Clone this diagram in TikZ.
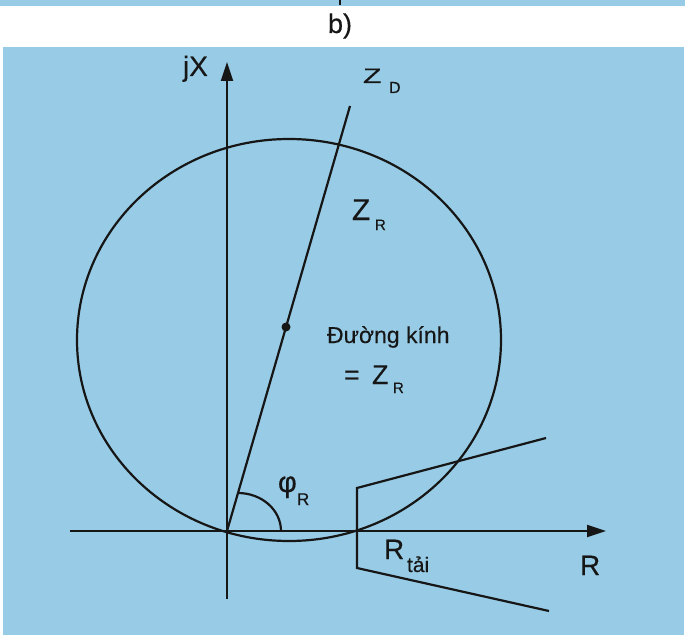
\documentclass[tikz,border=0pt]{standalone}
\usepackage{fontspec}
\setmainfont{Liberation Sans}[FakeBold=0.3]
\newfontfamily\widefont{Liberation Sans}[FakeStretch=1.45,FakeBold=0.3]
\usetikzlibrary{arrows.meta}
\definecolor{bgblue}{RGB}{152,203,229}
\definecolor{ink}{RGB}{22,22,22}
\tikzset{
  lbl/.style={anchor=base west, inner sep=0pt, outer sep=0pt, text=ink},
  curve/.style={draw=ink, line width=2.2pt},
  axis/.style={draw=ink, line width=2.2pt, -{Triangle[length=19pt,width=12pt]}},
}
\newcommand{\fs}[1]{\fontsize{#1}{#1}\selectfont}
\begin{document}
\begin{tikzpicture}[x=1pt,y=-1pt]
\useasboundingbox (0,0) rectangle (685,639);
% background
\fill[white] (0,0) rectangle (685,639);
\fill[bgblue] (0,0) rectangle (685,6);
\fill[bgblue] (3,47) rectangle (684,635);
\draw[ink, line width=2.5pt] (340,0) -- (340,5);
\node[anchor=base, inner sep=0pt, text=ink] (title) at (340,33) {\fs{27}b)};

% coordinates
\coordinate (O) at (227,531);
\coordinate (ytop) at (227,62);
\coordinate (ybot) at (227,599);
\coordinate (xleft) at (70,531);
\coordinate (xright) at (606,531);
\coordinate (Dtop) at (350,106);
\coordinate (C) at (286,327);
\coordinate (Q1) at (546,438);
\coordinate (Q2) at (357,488);
\coordinate (Q3) at (357,568);
\coordinate (Q4) at (549,611);
\coordinate (A1) at (238,493);

% circle (ellipse as in reference)
\draw[curve] (289,340) ellipse [x radius=212, y radius=201];
% axes
\draw[axis] (ybot) -- (ytop);
\draw[axis] (xleft) -- (xright);
% line Z_D
\draw[curve] (O) -- (Dtop);
\fill[ink] (C) circle (4.5);
% load blinder
\draw[curve, line join=miter] (Q1) -- (Q2) -- (Q3) -- (Q4);
% angle arc
\draw[curve] (A1) arc[start angle=-90, end angle=0, x radius=43, y radius=38];

% labels
\node[lbl] (jx) at (183,76) {\fs{28}jX};
\node[lbl] (zd) at (363,83) {\widefont\fs{21}Z};
\node[lbl] (zds) at (389,93) {\fs{16}D};
\node[lbl] (zr) at (352,220) {\fs{30}Z};
\node[lbl] (zrs) at (375,230) {\fs{15}R};
\node[lbl] (dk) at (327,343) {\fs{23}Đường kính};
\node[lbl] (eq) at (344,384) {\fs{27}=};
\node[lbl] (zr2) at (372,384) {\fs{27}Z};
\node[lbl] (zr2s) at (393,393) {\fs{15}R};
\node[lbl] (phi) at (278,492) {\fs{29}φ};
\node[lbl] (phis) at (297,505) {\fs{17}R};
\node[lbl] (rt) at (384,559) {\fs{28}R};
\node[lbl] (rts) at (407,572) {\fs{21}tải};
\node[lbl] (rax) at (580,575) {\fs{28}R};
\end{tikzpicture}
\end{document}
